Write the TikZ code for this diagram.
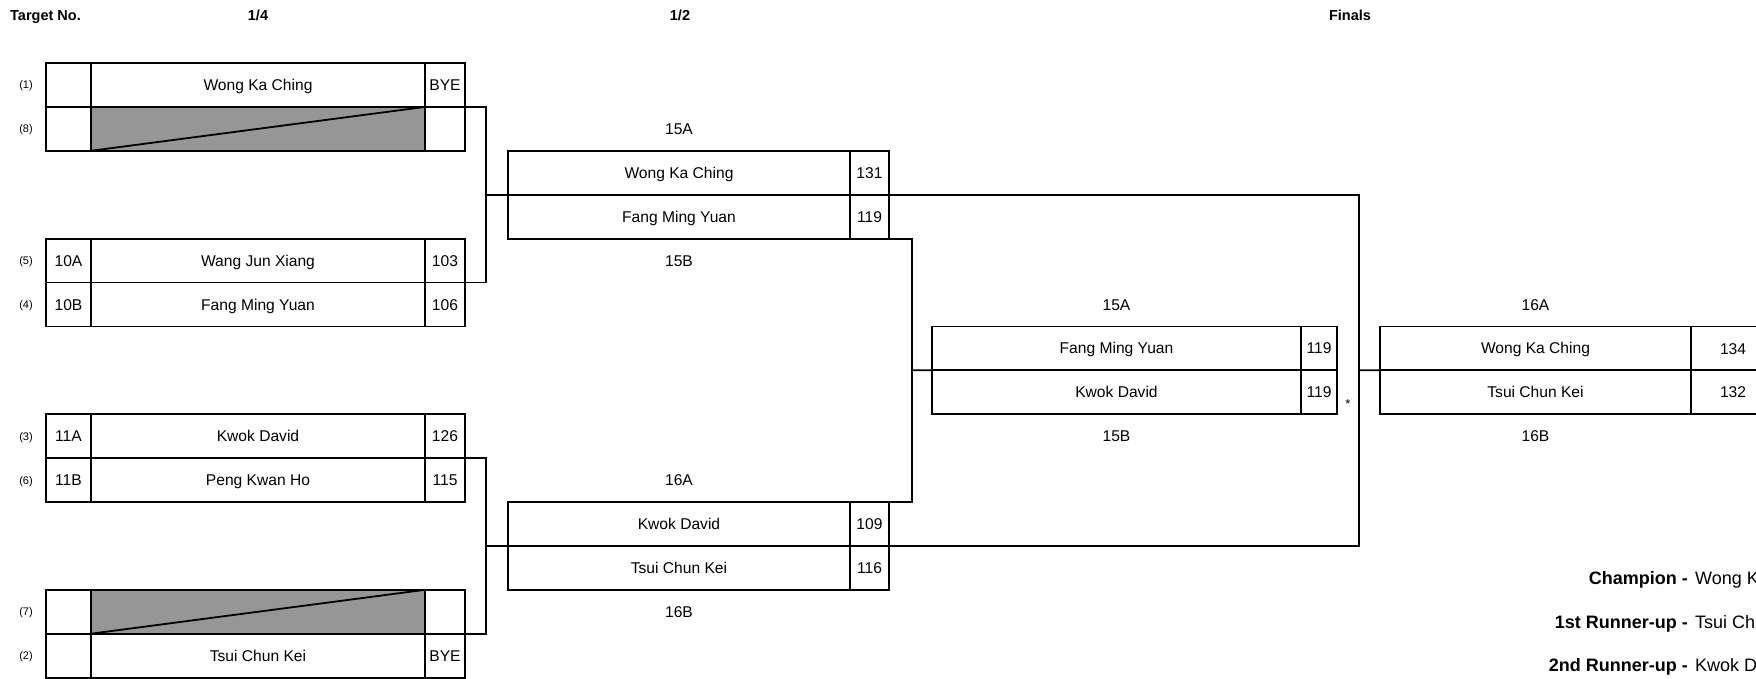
\documentclass[tikz,border=0pt]{standalone}
\usepackage{fontspec}
\setmainfont{Liberation Sans}
\definecolor{cellgray}{RGB}{150,150,150}
\tikzset{
  cell/.style={draw, line width=1.8pt, inner sep=0pt, outer sep=0pt, anchor=north west,
    minimum height=43.9pt, font=\fontsize{15.6pt}{18pt}\selectfont, text height=11.2pt, text depth=0pt},
  blank/.style={fill=cellgray},
  link/.style={draw, line width=1.8pt},
  hdr/.style={font=\bfseries\fontsize{14.5pt}{17pt}\selectfont, inner sep=0pt, anchor=base},
  seedlbl/.style={font=\fontsize{11pt}{13pt}\selectfont, inner sep=0pt, text height=7.9pt, text depth=0pt},
  matchlbl/.style={font=\fontsize{15.6pt}{18pt}\selectfont, inner sep=0pt, text height=11.2pt, text depth=0pt},
  reslbl/.style={font=\bfseries\fontsize{18pt}{21pt}\selectfont, inner sep=0pt, anchor=base east},
  resname/.style={font=\fontsize{18pt}{21pt}\selectfont, inner sep=0pt, anchor=base west},
}
% quarter-final row: #1 id, #2 top y, #3 seed text, #4 name, #5 score, #6 target label, #7 extra name style
\newcommand\qrow[7]{%
  \node[cell, minimum width=45pt] (s#1) at (46,#2) {#3};
  \node[cell, minimum width=334pt, #7] (n#1) at (91,#2) {#4};
  \node[cell, minimum width=40pt] (c#1) at (425,#2) {#5};
  \node[seedlbl] (t#1) at (26,#2+21.95) {#6};
}
\begin{document}
\begin{tikzpicture}[x=1pt,y=-1pt]
\useasboundingbox (0,0) rectangle (1756,678);
\clip (0,0) rectangle (1756,678);
% headers
\node[hdr, anchor=base west] (hTarget) at (10,20.2) {Target No.};
\node[hdr] (hQuarter) at (258,20.2) {1/4};
\node[hdr] (hSemi) at (680,20.2) {1/2};
\node[hdr] (hFinal) at (1350,20.2) {Finals};
% quarter finals
\qrow{1}{63}{}{Wong Ka Ching}{BYE}{(1)}{}
\qrow{8}{106.9}{}{}{}{(8)}{blank}
\qrow{5}{238.6}{10A}{Wang Jun Xiang}{103}{(5)}{}
\qrow{4}{282.5}{10B}{Fang Ming Yuan}{106}{(4)}{}
\qrow{3}{414.2}{11A}{Kwok David}{126}{(3)}{}
\qrow{6}{458.1}{11B}{Peng Kwan Ho}{115}{(6)}{}
\qrow{7}{589.8}{}{}{}{(7)}{blank}
\qrow{2}{633.7}{}{Tsui Chun Kei}{BYE}{(2)}{}
\draw[line width=1.8pt] (n8.south west) -- (n8.north east);
\draw[line width=1.8pt] (n7.south west) -- (n7.north east);
% semi finals
\node[cell, minimum width=342pt] (sn15a) at (508,150.8) {Wong Ka Ching};
\node[cell, minimum width=39pt] (sc15a) at (850,150.8) {131};
\node[cell, minimum width=342pt] (sn15b) at (508,194.7) {Fang Ming Yuan};
\node[cell, minimum width=39pt] (sc15b) at (850,194.7) {119};
\node[cell, minimum width=342pt] (sn16a) at (508,502) {Kwok David};
\node[cell, minimum width=39pt] (sc16a) at (850,502) {109};
\node[cell, minimum width=342pt] (sn16b) at (508,545.9) {Tsui Chun Kei};
\node[cell, minimum width=39pt] (sc16b) at (850,545.9) {116};
\node[matchlbl] (l15a) at (679,128.9) {15A};
\node[matchlbl] (l15b) at (679,261) {15B};
\node[matchlbl] (l16a) at (679,480.1) {16A};
\node[matchlbl] (l16b) at (679,611.8) {16B};
% third place match
\node[cell, minimum width=369pt] (bn1) at (932,326.4) {Fang Ming Yuan};
\node[cell, minimum width=36pt] (bc1) at (1301,326.4) {119};
\node[cell, minimum width=369pt] (bn2) at (932,370.3) {Kwok David};
\node[cell, minimum width=36pt] (bc2) at (1301,370.3) {119};
\node[matchlbl] (lb15a) at (1116.5,304.5) {15A};
\node[matchlbl] (lb15b) at (1116.5,436.2) {15B};
\node[font=\fontsize{13pt}{15pt}\selectfont, inner sep=0pt] (star) at (1348,404) {*};
% final
\node[cell, minimum width=311pt] (fn1) at (1380,326.4) {Wong Ka Ching};
\node[cell, minimum width=90pt] (fc1) at (1691,326.4) {};
\node[matchlbl] (fs1) at (1733,348.4) {134};
\node[cell, minimum width=311pt] (fn2) at (1380,370.3) {Tsui Chun Kei};
\node[cell, minimum width=90pt] (fc2) at (1691,370.3) {};
\node[matchlbl] (fs2) at (1733,392.3) {132};
\node[matchlbl] (lf16a) at (1535.5,304.5) {16A};
\node[matchlbl] (lf16b) at (1535.5,436.2) {16B};
% junctions
\coordinate (jA) at (486,194.7);
\coordinate (jC) at (486,545.9);
\coordinate (jB) at (912,370.3);
\coordinate (jF) at (1359,370.3);
% connectors
\draw[link] (c1.south east) -| (jA) |- (c5.south east);
\draw[link] (jA) -- (sn15a.south west);
\draw[link] (c3.south east) -| (jC) |- (c7.south east);
\draw[link] (jC) -- (sn16a.south west);
\draw[link] (sc15b.south east) -| (jB) |- (sc16a.north east);
\draw[link] (jB) -- (bn1.south west);
\draw[link] (sc15a.south east) -| (jF) |- (sc16a.south east);
\draw[link] (jF) -- (fn1.south west);
% results
\node[reslbl] (rChamp) at (1688,584.5) {Champion -};
\node[resname] (rChampN) at (1695,584.5) {Wong Ka Ching};
\node[reslbl] (rFirst) at (1688,628.5) {1st Runner-up -};
\node[resname] (rFirstN) at (1695,628.5) {Tsui Chun Kei};
\node[reslbl] (rSecond) at (1688,671.5) {2nd Runner-up -};
\node[resname] (rSecondN) at (1695,671.5) {Kwok David};
\end{tikzpicture}
\end{document}
